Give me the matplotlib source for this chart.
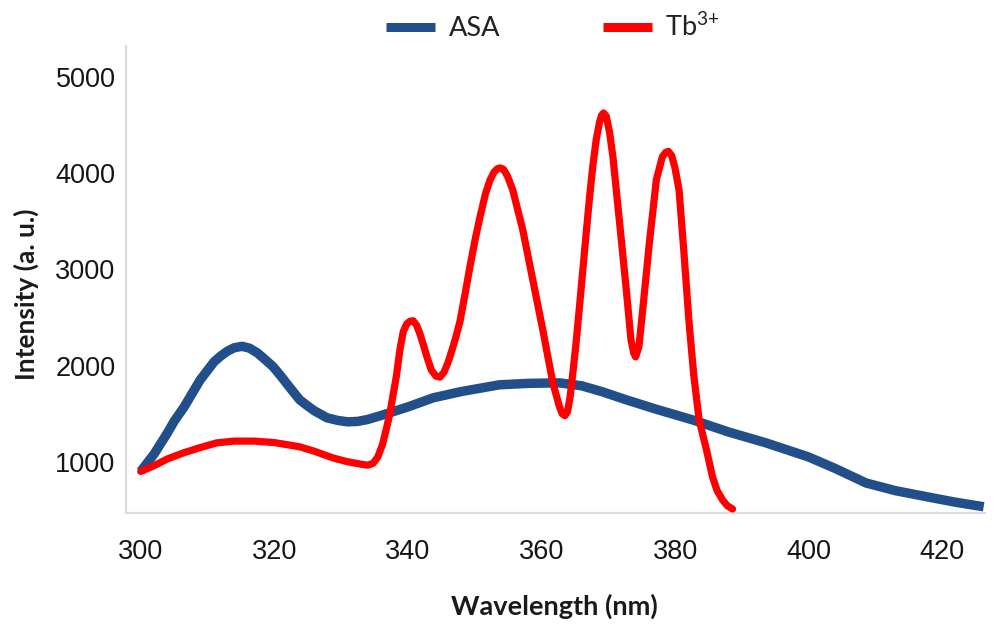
import matplotlib
matplotlib.use("Agg")
import matplotlib.pyplot as plt

# ASA excitation
asa_wl = [300, 301, 302, 304, 305, 306.5, 308.9, 310, 311, 312, 313, 314, 315.2,
          316.3, 317.5, 318.5, 319.8, 321, 322, 323.8, 325, 326, 327.9, 329.5, 331,
          332.5, 334, 336.3, 340, 343.8, 348, 353.7, 358, 362.7, 366, 369, 372.7,
          377, 382.6, 388, 393.6, 400, 404, 408.6, 413, 418.5, 422, 426.2]
asa_int = [900, 990, 1080, 1300, 1420, 1570, 1850, 1950, 2040, 2100, 2150, 2185, 2200,
           2180, 2130, 2070, 1990, 1890, 1800, 1644, 1580, 1530, 1457, 1430, 1415,
           1420, 1440, 1488, 1570, 1665, 1730, 1800, 1815, 1820, 1790, 1730, 1644,
           1550, 1436, 1310, 1197, 1050, 930, 780, 700, 626, 580, 533]

# Tb3+ excitation
tb_wl = [300, 302, 304, 306.4, 309, 311.4, 314, 317, 320, 323.8, 326, 328.8, 331,
         333, 334, 334.8, 335.5, 336.2, 336.8, 337.3, 337.8, 338.3, 338.8, 339.3,
         339.8, 340.3, 340.8, 341.3, 341.8, 342.3, 342.9, 343.5, 344.2, 344.8, 345.4,
         346.0, 346.6, 347.2, 347.8, 348.5, 349.3, 350.1, 350.8, 351.6, 352.3, 352.9,
         353.4, 353.8, 354.3, 354.9, 355.7, 357.2, 358.7, 360.2, 361.7, 362.7, 363.1,
         363.5, 363.9, 364.3, 364.7, 365.2, 365.7, 366.2, 366.7, 367.2, 367.7, 368.2,
         368.7, 369.0, 369.3, 369.7, 370.2, 370.7, 371.7, 372.7, 373.4, 373.8, 374.1,
         374.6, 375.2, 376.2, 377.2, 378.1, 378.6, 379.0, 379.5, 380.0, 380.6, 381.3,
         382.1, 382.8, 383.6, 384.7, 385.6, 386.3, 387.1, 387.8, 388.6]
tb_int = [900, 960, 1030, 1093, 1150, 1197, 1215, 1215, 1200, 1156, 1110, 1040, 1000,
          975, 965, 985, 1050, 1180, 1350, 1500, 1700, 1900, 2163, 2350,
          2430, 2460, 2465, 2420, 2330, 2220, 2080, 1955, 1890, 1880, 1930,
          2030, 2160, 2300, 2460, 2720, 3030, 3320, 3544, 3780, 3928, 4010,
          4045, 4053, 4040, 3970, 3824, 3410, 2890, 2370, 1820, 1570, 1500,
          1480, 1520, 1680, 1924, 2250, 2620, 3000, 3380, 3750, 4080, 4350,
          4530, 4600, 4624, 4590, 4420, 4167, 3480, 2786, 2267, 2130, 2090,
          2200, 2610, 3305, 3930, 4170, 4215, 4225, 4180, 4050, 3824, 3200,
          2443, 1900, 1436, 1125, 845, 700, 605, 545, 510]

x_ticks = [300, 320, 340, 360, 380, 400, 420]
y_ticks = [1000, 2000, 3000, 4000, 5000]

plt.rcParams['mathtext.fontset'] = 'custom'
plt.rcParams['mathtext.rm'] = 'Lato'
plt.rcParams['mathtext.it'] = 'Lato'
plt.rcParams['mathtext.sf'] = 'Lato'

fig = plt.figure(figsize=(10, 6.3), dpi=100)
ax = fig.add_axes([0.126, 0.186, 0.859, 0.741])

ax.plot(asa_wl, asa_int, color='#224f8a', lw=6.8, solid_capstyle='butt',
        solid_joinstyle='round', label='ASA', zorder=2)
ax.plot(tb_wl, tb_int, color='#ff0000', lw=5.2, solid_capstyle='round',
        solid_joinstyle='round', label='Tb$^{\\mathrm{3{+}}}$', zorder=3)

ax.set_xlim(297.8, 426.4)
ax.set_ylim(470, 5320)
ax.set_xticks(x_ticks)
ax.set_yticks(y_ticks)
ax.tick_params(length=0, labelsize=19.5, labelcolor='#151515')
ax.tick_params(axis='x', pad=19)
ax.tick_params(axis='y', pad=7.5)
for lab in ax.get_xticklabels() + ax.get_yticklabels():
    lab.set_family('Liberation Sans')

for s in ['top', 'right']:
    ax.spines[s].set_visible(False)
for s in ['left', 'bottom']:
    ax.spines[s].set_color('#dcdcdc')
    ax.spines[s].set_linewidth(1.6)

fig.text(0.554, 0.038, 'Wavelength (nm)', ha='center', va='center',
         fontsize=19.5, fontweight='bold', family='Lato', color='#1a1a1a')
fig.text(0.026, 0.533, 'Intensity (a. u.)', ha='center', va='center',
         rotation=90, fontsize=19, fontweight='bold', family='Lato', color='#1a1a1a')

leg = fig.legend(loc='center', bbox_to_anchor=(0.553, 0.957), ncol=2, frameon=False,
                 handlelength=1.8, handletextpad=0.5, columnspacing=3.8,
                 prop={'family': 'Lato', 'size': 19.5})
for t in leg.get_texts():
    t.set_color('#222222')
for h in leg.get_lines():
    h.set_linewidth(6.5)
    h.set_solid_capstyle('butt')

fig.savefig('out.png', dpi=100, facecolor='white')
